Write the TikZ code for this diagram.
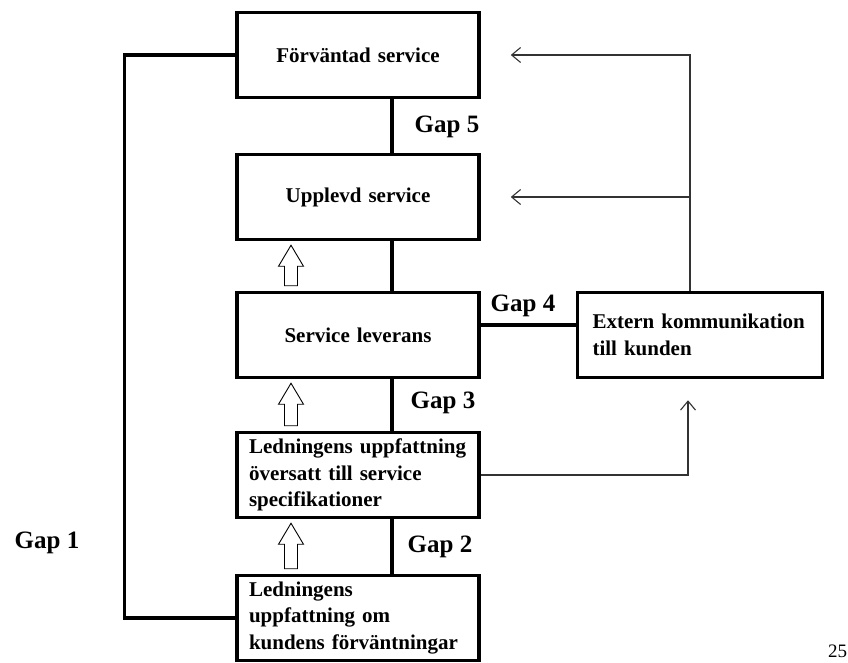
\documentclass[tikz,border=0pt]{standalone}
\usepackage{fontspec}
\setmainfont{Liberation Serif}
\usetikzlibrary{arrows.meta,calc}

\tikzset{
  box/.style={draw, line width=3.5pt, minimum width=242pt, minimum height=85pt,
    text width=218pt, inner xsep=12pt, font=\bfseries\fontsize{21}{26.5}\selectfont},
  gap/.style={font=\bfseries\fontsize{25}{30}\selectfont},
  gapline/.style={line width=3.5pt},
  info/.style={line width=1.1pt, black!80, -{Straight Barb[length=9pt,width=15pt]}},
  hollow/.style={line width=0.9pt, to path={let \p1=(\tikztostart), \p2=(\tikztotarget) in
    (\x1-6.5pt,\y1) -- (\x1-6.5pt,\y2-21pt) -- (\x1-12.5pt,\y2-21pt) -- (\x1,\y2)
    -- (\x1+12.5pt,\y2-21pt) -- (\x1+6.5pt,\y2-21pt) -- (\x1+6.5pt,\y1) -- cycle}}
}

\begin{document}
\begin{tikzpicture}[x=1pt, y=-1pt]
\useasboundingbox (0,0) rectangle (848,662);
\node[box, align=center] (forv) at (358,55) {Förväntad service};
\node[box, align=center] (uppl) at (358,197) {Upplevd service};
\node[box, align=center] (lev) at (358,335) {Service leverans};
\node[box, align=left] (spec) at (358,475) {Ledningens uppfattning\\översatt till service\\specifikationer};
\node[box, align=left] (led) at (358,618) {Ledningens\\uppfattning om\\kundens förväntningar};
\node[box, align=left, minimum width=245pt, text width=215pt, inner xsep=15pt] (ext) at (700,335) {Extern kommunikation\\till kunden};
\node[gap] (g5) at (447,127) {Gap 5};
\node[gap] (g4) at (523,306) {Gap 4};
\node[gap] (g3) at (443,403) {Gap 3};
\node[gap] (g2) at (440,547) {Gap 2};
\node[gap] (g1) at (47,543) {Gap 1};
\node[font=\fontsize{19}{22}\selectfont, anchor=base west, inner xsep=0pt] (pg) at (828,657) {25};
\foreach \a/\b in {forv/uppl, uppl/lev, lev/spec, spec/led}
    \draw[gapline] ([xshift=34pt]\a.south) -- ([xshift=34pt]\b.north);
\draw[gapline] ([yshift=10pt]lev.east) -- ([yshift=10pt]ext.west);
\draw[gapline] (forv.west) -- ++(-111,0) |- (led.west);
\foreach \a/\b in {led/spec, spec/lev, lev/uppl}
    \draw[hollow] ([xshift=-67pt,yshift=5pt]\a.north) to ([xshift=-67pt,yshift=-4pt]\b.south);
\draw[info] ([xshift=-10pt]ext.north) |- ([xshift=30pt]forv.east);
\draw[info] ([xshift=-10pt]ext.north) |- ([xshift=30pt]uppl.east);
\draw[info] (spec.east) -| ([xshift=-12pt,yshift=-21pt]ext.south);
\end{tikzpicture}
\end{document}
